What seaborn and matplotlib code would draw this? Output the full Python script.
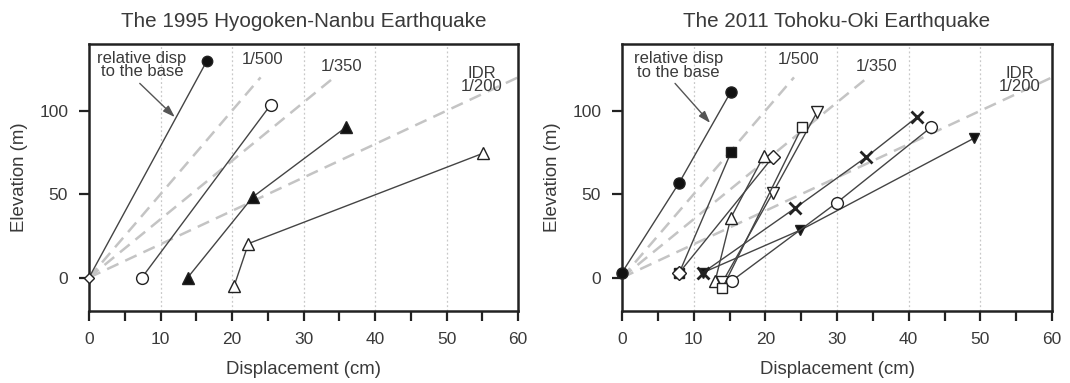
import matplotlib
matplotlib.use("Agg")
import matplotlib.pyplot as plt
import seaborn as sns
import pandas as pd

# ---------------- data ----------------
titles = ["The 1995 Hyogoken-Nanbu Earthquake", "The 2011 Tohoku-Oki Earthquake"]
xticks = [0, 10, 20, 30, 40, 50, 60]
yticks = [0, 50, 100]

# IDR reference lines (end points, start at origin)
idr_labels = ["1/500", "1/350", "IDR\n1/200"]
idr_end_x = [24.0, 34.0, 60.0]
idr_end_y = [120, 119, 120]

# Hyogoken-Nanbu series
hn_fcirc_x = [0, 16.5];            hn_fcirc_y = [0, 130]
hn_ocirc_x = [7.4, 25.4];          hn_ocirc_y = [0, 103.5]
hn_ftri_x = [13.8, 22.9, 35.9];    hn_ftri_y = [0, 48.3, 90]
hn_otri_x = [20.3, 22.3, 55.1];    hn_otri_y = [-5, 20.4, 74.5]

# Tohoku-Oki series
to_fcirc_x = [0, 8.0, 15.2];          to_fcirc_y = [3, 57, 111.5]
to_fsq_x = [8.0, 15.2];               to_fsq_y = [3, 75]
to_odia_x = [8.0, 21.0];              to_odia_y = [3, 72]
to_otri_x = [13.0, 15.2, 19.8];       to_otri_y = [-2, 36, 73]
to_ovtri_x = [14.0, 21.0, 27.2];      to_ovtri_y = [-2.8, 50.5, 99]
to_osq_x = [14.0, 25.1];              to_osq_y = [-6.5, 90]
to_ocirc_x = [15.3, 30.0, 43.1];      to_ocirc_y = [-2, 45, 90]
to_cross_x = [11.3, 24.1, 34.0, 41.1]; to_cross_y = [3, 41.5, 72, 96]
to_fvtri_x = [11.3, 24.9, 49.1];      to_fvtri_y = [3, 28.5, 83.5]

# ---------------- style ----------------
sns.set_theme(style="white")
plt.rcParams['font.family'] = ['Liberation Sans', 'DejaVu Sans']
TXT = '#3a3a3a'
LINE = '#444444'

fig = plt.figure(figsize=(10.7, 3.83), dpi=100)
axL = fig.add_axes([89/1070, 72/383, 429/1070, 267/383])
axR = fig.add_axes([622/1070, 72/383, 430/1070, 267/383])

def draw(ax, x, y, marker, filled, ms=7.5, mew=1.0, z=3, markevery=None):
    df = pd.DataFrame({"x": x, "y": y})
    fc = '#111111' if filled else 'white'
    sns.lineplot(data=df, x="x", y="y", ax=ax, sort=False, estimator=None,
                 color=LINE, linewidth=1.0, marker=marker, markersize=ms,
                 markerfacecolor=fc, markeredgecolor='#222222',
                 markeredgewidth=mew, zorder=z, clip_on=False,
                 markevery=markevery)

def setup(ax, title, rel_xy, arrow_tail, arrow_head, lab_pos):
    ax.set_xlim(0, 60)
    ax.set_ylim(-20, 140)
    ax.set_xticks([0, 5, 10, 15, 20, 25, 30, 35, 40, 45, 50, 55, 60])
    ax.set_xticklabels([str(v) if v in xticks else "" for v in range(0, 61, 5)])
    ax.set_yticks(yticks)
    ax.tick_params(axis='both', direction='out', length=7, width=1.6,
                   color='#222222', labelcolor=TXT, labelsize=12.5, pad=8,
                   bottom=True, left=True)
    for s in ax.spines.values():
        s.set_color('#222222')
        s.set_linewidth(1.8)
    for gx in [10, 20, 30, 40, 50]:
        ax.axvline(gx, color='#c8c8c8', linestyle=(0, (1.5, 2)), linewidth=0.9, zorder=0)
    for ex, ey in zip(idr_end_x, idr_end_y):
        ref = pd.DataFrame({"x": [0, ex], "y": [0, ey]})
        sns.lineplot(data=ref, x="x", y="y", ax=ax, sort=False, estimator=None,
                     color='#c4c4c4', linewidth=1.8, zorder=1)
        ax.lines[-1].set_dashes((5, 3))
    for lab, (lx, ly) in zip(idr_labels, lab_pos):
        ax.text(lx, ly, lab, ha='center', va='center', fontsize=12, color=TXT,
                linespacing=0.85)
    ax.text(rel_xy[0], rel_xy[1], "relative disp\nto the base", ha='center', va='center',
            fontsize=12, color=TXT, linespacing=0.85)
    ax.annotate("", xy=arrow_head, xytext=arrow_tail,
                arrowprops=dict(arrowstyle='-|>,head_length=0.6,head_width=0.2',
                                color='#555555', lw=1.0, shrinkA=0, shrinkB=0))
    ax.set_title(title, fontsize=14.9, color=TXT, pad=12)
    ax.set_xlabel("Displacement (cm)", fontsize=13.4, color=TXT, labelpad=10)
    ax.set_ylabel("Elevation (m)", fontsize=13.4, color=TXT, labelpad=8)

setup(axL, titles[0], (7.4, 127.5), (7.1, 116.4), (12.0, 96.2),
      [(24.3, 130.5), (35.3, 126.8), (54.9, 118.4)])
setup(axR, titles[1], (7.9, 127.1), (7.4, 116.4), (12.3, 92.7),
      [(24.6, 130.5), (35.5, 126.8), (55.5, 118.4)])

# left panel series
draw(axL, hn_fcirc_x, hn_fcirc_y, 'o', True, markevery=[1])
draw(axL, [0], [0], 'D', False, ms=5.5, z=4)
draw(axL, hn_ocirc_x, hn_ocirc_y, 'o', False, ms=8.5)
draw(axL, hn_ftri_x, hn_ftri_y, '^', True, ms=8.5)
draw(axL, hn_otri_x, hn_otri_y, '^', False, ms=8.5)

# right panel series
draw(axR, to_fsq_x, to_fsq_y, 's', True, ms=6.5)
draw(axR, to_fcirc_x, to_fcirc_y, 'o', True, ms=8)
draw(axR, to_odia_x, to_odia_y, 'D', False, ms=7.5)
draw(axR, to_fvtri_x, to_fvtri_y, 'v', True, ms=7.5)
draw(axR, to_cross_x, to_cross_y, 'x', True, ms=8, mew=2.0)
draw(axR, to_otri_x, to_otri_y, '^', False, ms=8.5)
draw(axR, to_ovtri_x, to_ovtri_y, 'v', False, ms=8.5)
draw(axR, to_osq_x, to_osq_y, 's', False, ms=7.5)
draw(axR, to_ocirc_x, to_ocirc_y, 'o', False, ms=8.5)

for ax in (axL, axR):
    if ax.get_legend():
        ax.get_legend().remove()

fig.savefig("out.png", dpi=100)
